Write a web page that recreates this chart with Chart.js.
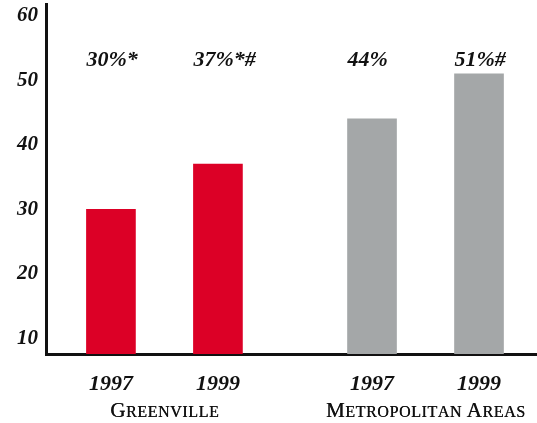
<!DOCTYPE html>
<html>
<head>
<meta charset="utf-8">
<script src="https://cdn.jsdelivr.net/npm/chart.js@4/dist/chart.umd.min.js"></script>
<style>
  html, body { margin: 0; padding: 0; background: #fff; }
  #wrap { width: 537px; height: 423px; }
</style>
</head>
<body>
<div id="wrap"><canvas id="c" width="537" height="423"></canvas></div>
<script>
// Survey results: share of respondents, by place and year
const years = ['1997', '1999'];
const groups = ['Greenville', 'Metropolitan Areas'];
const greenvilleValues = [30, 37];
const metroValues = [44, 51];
const valueLabels = ['30%*', '37%*#', '44%', '51%#'];
const yTicks = [10, 20, 30, 40, 50, 60];

const RED = '#dc0026';
const GREY = '#a4a7a8';
const INK = '#111111';
const SERIF = '"Liberation Serif", "DejaVu Serif", serif';
const GROUP_GAP = 0.44; // extra space between the two place groups, in bar steps

// x position of each bar: group offset plus year index
const posOf = (g, y) => g * (years.length + GROUP_GAP) + y;
const tickPositions = [];
groups.forEach((_, g) => years.forEach((_, y) => tickPositions.push(posOf(g, y))));

const toPoints = (vals, g) => vals.map((v, i) => ({ x: posOf(g, i), y: v }));

// Value captions above the bars and small-caps place names below the years
const annotations = {
  id: 'annotations',
  afterDraw(chart) {
    const ctx = chart.ctx;
    const xs = chart.scales.x;
    ctx.save();
    ctx.fillStyle = INK;
    // captions
    ctx.font = 'italic bold 22px ' + SERIF;
    ctx.textBaseline = 'alphabetic';
    ctx.textAlign = 'left';
    let k = 0;
    chart.data.datasets.forEach((ds, di) => {
      const meta = chart.getDatasetMeta(di);
      meta.data.forEach(bar => {
        ctx.fillText(valueLabels[k++], bar.x - bar.width / 2, 66);
      });
    });
    // place names in small caps
    groups.forEach((name, g) => {
      const cx = (xs.getPixelForValue(posOf(g, 0)) + xs.getPixelForValue(posOf(g, years.length - 1))) / 2;
      drawSmallCaps(ctx, name, cx, 417);
    });
    ctx.restore();
  }
};

function drawSmallCaps(ctx, text, cx, baseline) {
  const big = '21px ' + SERIF;
  const small = '16px ' + SERIF;
  const spacing = 0.6;
  const parts = [];
  let startOfWord = true;
  for (const ch of text) {
    if (ch === ' ') { parts.push({ ch: ' ', font: small }); startOfWord = true; continue; }
    parts.push({ ch: ch.toUpperCase(), font: startOfWord ? big : small });
    startOfWord = false;
  }
  let total = 0;
  parts.forEach(p => { ctx.font = p.font; p.w = ctx.measureText(p.ch).width; total += p.w + spacing; });
  total -= spacing;
  let x = cx - total / 2;
  ctx.textAlign = 'left';
  ctx.textBaseline = 'alphabetic';
  parts.forEach(p => {
    ctx.font = p.font;
    ctx.fillText(p.ch, x, baseline);
    // a faint second pass thickens the strokes a little
    ctx.fillText(p.ch, x + 0.35, baseline);
    x += p.w + spacing;
  });
}

const noEdgePadding = s => { s.paddingLeft = 0; s.paddingRight = 0; s.paddingTop = 0; s.paddingBottom = 0; };

new Chart(document.getElementById('c'), {
  type: 'bar',
  data: {
    datasets: [
      { label: groups[0], data: toPoints(greenvilleValues, 0), backgroundColor: RED, grouped: false, barThickness: 49 },
      { label: groups[1], data: toPoints(metroValues, 1), backgroundColor: GREY, grouped: false, barThickness: 49 }
    ]
  },
  options: {
    responsive: false,
    animation: false,
    layout: { padding: { top: 4, right: 0, bottom: 0, left: 0 } },
    plugins: { legend: { display: false }, tooltip: { enabled: false } },
    scales: {
      x: {
        type: 'linear',
        offset: false,
        min: -0.607,
        max: 3.982,
        grid: { display: false, drawTicks: false },
        border: { display: true, color: INK, width: 3 },
        afterBuildTicks: s => { s.ticks = tickPositions.map(v => ({ value: v })); },
        afterFit: s => { s.height = 69; noEdgePadding(s); },
        ticks: {
          autoSkip: false,
          maxRotation: 0,
          padding: 17,
          color: INK,
          font: { family: SERIF, size: 22, style: 'italic', weight: 'bold' },
          callback: (v, i) => years[i % years.length]
        }
      },
      y: {
        min: 7.6,
        max: 61.8,
        grid: { display: false, drawTicks: false },
        border: { display: true, color: INK, width: 3 },
        afterBuildTicks: s => { s.ticks = yTicks.map(v => ({ value: v })); },
        afterFit: s => { s.width = 46; noEdgePadding(s); },
        ticks: {
          padding: 8,
          color: INK,
          font: { family: SERIF, size: 21, style: 'italic', weight: 'bold' }
        }
      }
    }
  },
  plugins: [annotations]
});
</script>
</body>
</html>
